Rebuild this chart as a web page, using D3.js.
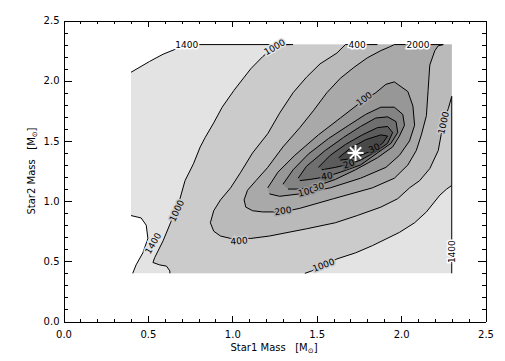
<!DOCTYPE html>
<html>
<head>
<meta charset="utf-8">
<script src="https://cdn.jsdelivr.net/npm/d3@7"></script>
<style>
body { margin: 0; background: #fff; }
text { font-family: "DejaVu Sans", sans-serif; fill: #000; }
</style>
</head>
<body>
<svg id="chart"></svg>
<script>
// contour lines, [Star1 mass, Star2 mass]
const gridMin = 0.4, gridMax = 2.3;

const c1400top = [[0.40,2.07],[0.51,2.16],[0.59,2.22],[0.66,2.26],[0.71,2.30],[1.34,2.30]];
const c1400right = [[2.30,1.13],[2.30,0.40]];
const c1400bump = [[0.41,0.40],[0.43,0.47],[0.47,0.57],[0.50,0.69],[0.49,0.80],[0.46,0.86],[0.40,0.88]];

const c1000left = [[1.36,2.30],[1.31,2.30],[1.24,2.27],[1.18,2.20],[1.11,2.10],[1.01,1.92],[0.94,1.78],[0.89,1.65],
  [0.84,1.53],[0.81,1.45],[0.77,1.31],[0.72,1.17],[0.69,1.02],[0.67,0.94],[0.64,0.84],[0.59,0.67],[0.54,0.53],
  [0.53,0.49],[0.57,0.47],[0.61,0.46],[0.63,0.42],[0.63,0.40]];
const c1000right = [[1.43,0.40],[1.47,0.42],[1.54,0.46],[1.62,0.52],[1.73,0.57],[1.83,0.63],[1.99,0.74],[2.08,0.82],
  [2.15,0.91],[2.23,1.05],[2.27,1.10],[2.30,1.13]];

const c400 = [[1.86,2.30],[1.67,2.30],[1.62,2.23],[1.52,2.14],[1.44,2.03],[1.36,1.90],[1.28,1.73],[1.21,1.56],[1.12,1.40],
  [1.05,1.24],[0.99,1.11],[0.93,1.01],[0.89,0.92],[0.87,0.82],[0.89,0.75],[0.93,0.71],[0.99,0.69],[1.11,0.69],[1.22,0.71],
  [1.44,0.77],[1.61,0.82],[1.74,0.88],[1.88,0.95],[1.98,1.02],[2.05,1.11],[2.11,1.17],[2.17,1.27],[2.22,1.42],[2.25,1.65],
  [2.28,1.77],[2.30,1.87],[2.30,1.13]];

const c200 = [[2.25,2.30],[1.96,2.30],[1.93,2.28],[1.88,2.25],[1.80,2.19],[1.72,2.11],[1.64,2.02],[1.56,1.90],[1.48,1.75],
  [1.40,1.61],[1.30,1.45],[1.21,1.28],[1.14,1.17],[1.09,1.09],[1.07,1.01],[1.08,0.95],[1.12,0.92],[1.18,0.91],[1.30,0.91],
  [1.40,0.94],[1.60,1.02],[1.83,1.11],[1.96,1.19],[2.04,1.30],[2.09,1.42],[2.12,1.55],[2.15,1.71],[2.16,1.92],[2.17,2.13],
  [2.20,2.25],[2.22,2.29],[2.25,2.30]];

const c100 = [[1.21,1.11],[1.27,1.24],[1.37,1.38],[1.51,1.55],[1.64,1.69],[1.76,1.82],[1.85,1.90],[1.91,1.97],[1.96,1.99],
  [2.04,1.91],[2.07,1.79],[2.08,1.63],[2.05,1.50],[1.99,1.38],[1.91,1.28],[1.76,1.19],[1.58,1.11],[1.40,1.06],[1.28,1.04],[1.22,1.06]];
const c70 = [[1.30,1.14],[1.36,1.26],[1.45,1.39],[1.57,1.52],[1.69,1.63],[1.79,1.72],[1.88,1.78],[1.96,1.78],[2.01,1.72],
  [2.02,1.63],[1.99,1.54],[1.95,1.45],[1.86,1.36],[1.73,1.26],[1.61,1.18],[1.51,1.13],[1.40,1.10],[1.33,1.10]];
const c40 = [[1.39,1.19],[1.44,1.29],[1.55,1.42],[1.66,1.53],[1.76,1.62],[1.85,1.69],[1.92,1.70],[1.97,1.66],[1.98,1.57],
  [1.94,1.48],[1.86,1.40],[1.76,1.30],[1.64,1.24],[1.55,1.20],[1.46,1.18],[1.40,1.17]];
const c30 = [[1.51,1.28],[1.58,1.38],[1.67,1.47],[1.77,1.55],[1.86,1.61],[1.92,1.62],[1.95,1.57],[1.92,1.48],[1.85,1.41],
  [1.76,1.34],[1.70,1.31],[1.61,1.28],[1.53,1.26]];
const c20 = [[1.63,1.36],[1.70,1.44],[1.79,1.51],[1.88,1.55],[1.92,1.54],[1.89,1.48],[1.83,1.42],[1.76,1.38],[1.69,1.35],[1.64,1.34]];

const levels = [1400, 1000, 400, 200, 100, 70, 40, 30, 20];
const bandColors = ["#e3e3e3","#cbcbcb","#bababa","#a9a9a9","#979797","#838383","#6f6f6f","#5c5c5c","#494949"];

const labelText = ["1400","1000","400","2000","100","1000","1000","1400","400","200","1000","1400","100","30","40","20","30"];
const labelPos = [[0.73,2.30],[1.25,2.28],[1.74,2.30],[2.10,2.30],[1.78,1.85],[2.25,1.65],[0.67,0.92],[0.53,0.65],
  [1.04,0.67],[1.30,0.92],[1.54,0.47],[2.30,0.58],[1.44,1.08],[1.51,1.12],[1.56,1.21],[1.69,1.31],[1.84,1.44]];
const labelAngle = [0,-30,0,0,-37,-77,-65,-60,-5,-8,-21,-90,-15,-15,-10,-20,-25];

const bestFit = [1.73, 1.40];
const majorTicks = [0, 0.5, 1.0, 1.5, 2.0, 2.5];
const minorTicks = d3.range(0, 25).map(i => i / 10).filter(v => Math.round(v * 10) % 5 != 0);

const svgWidth = 505, svgHeight = 361;
const svg = d3.select("#chart").attr("width", svgWidth).attr("height", svgHeight);

const x = d3.scaleLinear().domain([0, 2.5]).range([63.5, 485.5]);
const y = d3.scaleLinear().domain([0, 2.5]).range([321.5, 20.5]);

const topRight = [gridMax, gridMax];
// fill regions: value below each level, light to dark
const fillShapes = [
  [c1400top, [topRight], c1400right, c1400bump],
  [c1000left, c1000right, [topRight]],
  [c400, [topRight]],
  [c200], [c100], [c70], [c40], [c30], [c20]
].map(parts => d3.merge(parts));

const line = d3.line().x(d => x(d[0])).y(d => y(d[1]));

svg.append("g").selectAll("path")
  .data(fillShapes)
  .enter().append("path")
  .attr("d", d => line(d) + "Z")
  .attr("fill", (d, i) => bandColors[i])
  .attr("stroke", "none");

const strokeLines = [c1400top, c1400right, c1400bump, c1000left, c1000right, c400, c200, c100, c70, c40, c30, c20];
svg.append("g").selectAll("path")
  .data(strokeLines)
  .enter().append("path")
  .attr("d", line)
  .attr("fill", "none")
  .attr("stroke", "#000")
  .attr("stroke-width", 1);

// label background = band the label sits in
function bandAt(p) {
  let c = "#fff";
  fillShapes.forEach((s, i) => { if (d3.polygonContains(s, p)) c = bandColors[i]; });
  return c;
}

svg.append("g").selectAll("text")
  .data(labelText)
  .enter().append("text")
  .attr("transform", (d, i) => "translate(" + x(labelPos[i][0]) + "," + y(labelPos[i][1]) + ") rotate(" + labelAngle[i] + ")")
  .attr("text-anchor", "middle")
  .attr("dy", "0.36em")
  .style("font-size", "9px")
  .style("paint-order", "stroke")
  .style("stroke", (d, i) => bandAt(labelPos[i]))
  .style("stroke-width", 3)
  .text(d => d);

// best fit marker
const star = svg.append("g").attr("transform", "translate(" + x(bestFit[0]) + "," + y(bestFit[1]) + ")");
[0, 45, 90, 135].forEach(a => {
  star.append("line")
    .attr("x1", -8).attr("x2", 8).attr("y1", 0).attr("y2", 0)
    .attr("transform", "rotate(" + a + ")")
    .attr("stroke", "#fff").attr("stroke-width", 2);
});

// axes, ticks inward on all four sides
const fmt = d3.format(".1f");
function styleAxis(g) {
  g.selectAll("path, line").attr("stroke", "#000").attr("shape-rendering", "crispEdges");
  g.selectAll("text").style("font-size", "10px").attr("fill", "#000");
}
svg.append("g").attr("transform", "translate(0," + y(0) + ")")
  .call(d3.axisBottom(x).tickValues(majorTicks).tickFormat(fmt).tickSize(-6).tickSizeOuter(0).tickPadding(9)).call(styleAxis);
svg.append("g").attr("transform", "translate(0," + y(0) + ")")
  .call(d3.axisBottom(x).tickValues(minorTicks).tickFormat("").tickSize(-3).tickSizeOuter(0)).call(styleAxis);
svg.append("g").attr("transform", "translate(0," + y(2.5) + ")")
  .call(d3.axisTop(x).tickValues(majorTicks).tickFormat("").tickSize(-6).tickSizeOuter(0)).call(styleAxis);
svg.append("g").attr("transform", "translate(0," + y(2.5) + ")")
  .call(d3.axisTop(x).tickValues(minorTicks).tickFormat("").tickSize(-3).tickSizeOuter(0)).call(styleAxis);
svg.append("g").attr("transform", "translate(" + x(0) + ",0)")
  .call(d3.axisLeft(y).tickValues(majorTicks).tickFormat(fmt).tickSize(-8).tickSizeOuter(0).tickPadding(4)).call(styleAxis);
svg.append("g").attr("transform", "translate(" + x(0) + ",0)")
  .call(d3.axisLeft(y).tickValues(minorTicks).tickFormat("").tickSize(-4).tickSizeOuter(0)).call(styleAxis);
svg.append("g").attr("transform", "translate(" + x(2.5) + ",0)")
  .call(d3.axisRight(y).tickValues(majorTicks).tickFormat("").tickSize(-8).tickSizeOuter(0)).call(styleAxis);
svg.append("g").attr("transform", "translate(" + x(2.5) + ",0)")
  .call(d3.axisRight(y).tickValues(minorTicks).tickFormat("").tickSize(-4).tickSizeOuter(0)).call(styleAxis);

// axis titles
function massTitle(t, label) {
  t.style("font-size", "10px").style("white-space", "pre").attr("text-anchor", "middle");
  t.append("tspan").text(label + "   [M");
  t.append("tspan").attr("dy", 2).style("font-size", "7px").text("\u2299");
  t.append("tspan").attr("dy", -2).text("]");
}
svg.append("text").attr("x", 274).attr("y", 351).call(massTitle, "Star1 Mass");
svg.append("text").attr("transform", "translate(35,171) rotate(-90)").call(massTitle, "Star2 Mass");
</script>
</body>
</html>
